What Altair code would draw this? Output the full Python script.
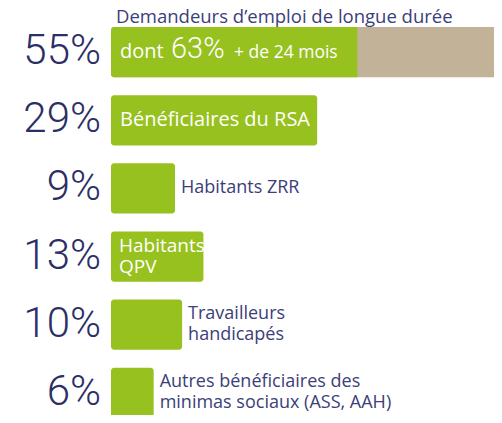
import altair as alt
import pandas as pd

# ---- data ----
categories = ["DELD", "RSA", "ZRR", "QPV", "TH", "AUTRES"]
values = [55, 29, 9, 13, 10, 6]
pct_labels = ["55%", "29%", "9%", "13%", "10%", "6%"]
names = [
    "",
    "Bénéficiaires du RSA",
    "Habitants ZRR",
    "Habitants\nQPV",
    "Travailleurs\nhandicapés",
    "Autres bénéficiaires des\nminimas sociaux (ASS, AAH)",
]
inside = [False, True, False, True, False, False]
title_text = "Demandeurs d’emploi de longue durée"
share_24_months = 63  # % of long-term job seekers unemployed > 24 months
first_parts = ["dont", "63%", "+ de 24 mois"]

# ---- style ----
GREEN = "#97c11f"
TAN = "#c1b298"
NAVY = "#2b2f66"
LABEL = "#3b4079"
FONT = "Open Sans"
NUMFONT = "Roboto"

x_scale = alt.Scale(domain=[-14.49, 53.875], nice=False, zero=False)
y_scale = alt.Scale(domain=categories, range=[19, 410], paddingInner=0.263, paddingOuter=0)

bars = pd.DataFrame({"cat": categories, "start": [0] * 6, "end": values})
first_green = values[0] * share_24_months / 100.0

deld = pd.DataFrame({"cat": [categories[0]], "start": [0], "green_end": [first_green], "end": [values[0]]})

base_y = alt.Y("cat:N", scale=y_scale, axis=None, sort=categories)

tan_bar = alt.Chart(deld).mark_bar(color=TAN, cornerRadius=3).encode(
    x=alt.X("start:Q", scale=x_scale, axis=None), x2="end:Q", y=base_y
)
green_first = alt.Chart(deld).mark_bar(
    color=GREEN, cornerRadiusTopLeft=3, cornerRadiusBottomLeft=3
).encode(x=alt.X("start:Q", scale=x_scale, axis=None), x2="green_end:Q", y=base_y)

others = bars.iloc[1:].copy()
green_bars = alt.Chart(others).mark_bar(color=GREEN, cornerRadius=3).encode(
    x=alt.X("start:Q", scale=x_scale, axis=None), x2="end:Q", y=base_y
)

pct_df = pd.DataFrame({"cat": categories, "txt": pct_labels, "zero": [0] * 6})
pct_text = alt.Chart(pct_df).mark_text(
    align="right", baseline="middle", dx=-10, dy=-1, font=NUMFONT, fontWeight=300,
    fontSize=42, color=NAVY
).encode(x=alt.X("zero:Q", scale=x_scale, axis=None), y=base_y, text="txt:N")

lab_df = pd.DataFrame({"cat": categories, "txt": names, "val": values, "inside": inside, "zero": [0] * 6})
in_df = lab_df[lab_df["inside"] & (lab_df["txt"] != "")].copy()
out_df = lab_df[~lab_df["inside"] & (lab_df["txt"] != "")].copy()
in_df["nlines"] = in_df["txt"].str.count("\n") + 1
out_df["nlines"] = out_df["txt"].str.count("\n") + 1

in_one = alt.Chart(in_df[in_df["nlines"] == 1]).mark_text(
    align="left", baseline="middle", dx=9, font=FONT, fontSize=20, color="white"
).encode(x=alt.X("zero:Q", scale=x_scale, axis=None), y=base_y, text="txt:N")
in_two = alt.Chart(in_df[in_df["nlines"] == 2]).mark_text(
    align="left", baseline="middle", dx=8, dy=-10.5, font=FONT, fontSize=19, color="white",
    lineBreak="\n", lineHeight=21
).encode(x=alt.X("zero:Q", scale=x_scale, axis=None), y=base_y, text="txt:N")

out_one = alt.Chart(out_df[out_df["nlines"] == 1]).mark_text(
    align="left", baseline="middle", dx=6, font=FONT, fontSize=18, color=LABEL
).encode(x=alt.X("val:Q", scale=x_scale, axis=None), y=base_y, text="txt:N")
out_two = alt.Chart(out_df[out_df["nlines"] == 2]).mark_text(
    align="left", baseline="middle", dx=6, dy=-10.5, font=FONT, fontSize=18, color=LABEL,
    lineBreak="\n", lineHeight=21
).encode(x=alt.X("val:Q", scale=x_scale, axis=None), y=base_y, text="txt:N")

title_df = pd.DataFrame({"cat": [categories[0]], "txt": [title_text], "zero": [0]})
title_mark = alt.Chart(title_df).mark_text(
    align="left", baseline="alphabetic", dx=5, dy=-29, font=FONT, fontSize=18.5, color=LABEL
).encode(x=alt.X("zero:Q", scale=x_scale, axis=None), y=base_y, text="txt:N")

part_df = pd.DataFrame({"cat": [categories[0]], "zero": [0]})
part_dont = alt.Chart(part_df).mark_text(
    align="left", baseline="alphabetic", dx=9, dy=6, font=FONT, fontSize=20, color="white",
    text=first_parts[0]
).encode(x=alt.X("zero:Q", scale=x_scale, axis=None), y=base_y)
part_pct = alt.Chart(part_df).mark_text(
    align="left", baseline="alphabetic", dx=60, dy=6, font=NUMFONT, fontWeight=300, fontSize=29,
    color="white", text=first_parts[1]
).encode(x=alt.X("zero:Q", scale=x_scale, axis=None), y=base_y)
part_rest = alt.Chart(part_df).mark_text(
    align="left", baseline="alphabetic", dx=123, dy=6, font=FONT, fontSize=17.5, color="white",
    text=first_parts[2]
).encode(x=alt.X("zero:Q", scale=x_scale, axis=None), y=base_y)

chart = alt.layer(
    tan_bar, green_first, green_bars, pct_text, in_one, in_two, out_one, out_two, title_mark,
    part_dont, part_pct, part_rest
).properties(
    width=486, height=407, padding=0, autosize=alt.AutoSizeParams(type="none"),
    background="white"
).configure_view(stroke=None)

chart.save("out.html", embed_options={"renderer": "svg", "actions": False})
